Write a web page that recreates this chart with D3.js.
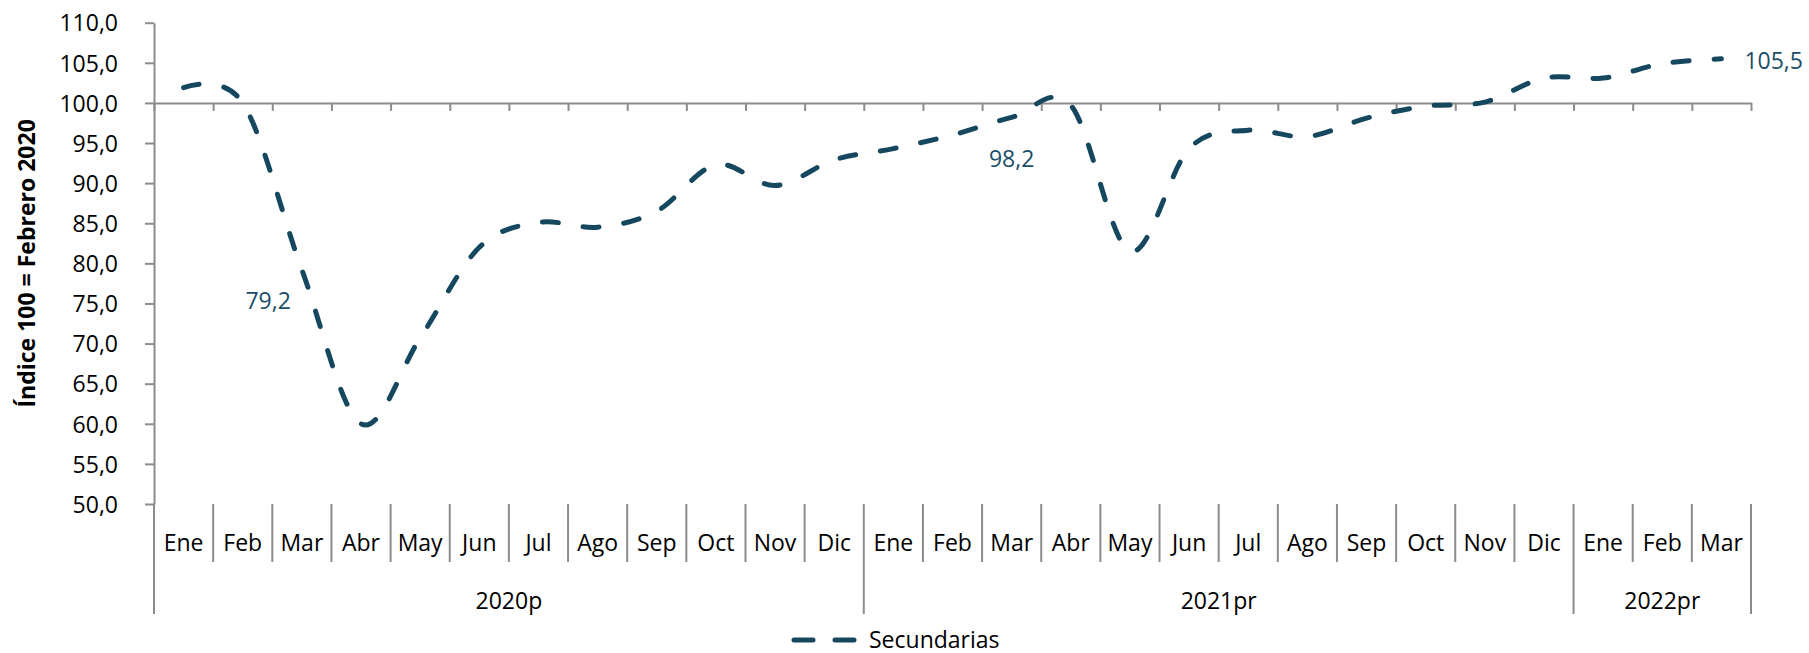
<!DOCTYPE html>
<html>
<head>
<meta charset="utf-8">
<script src="https://cdn.jsdelivr.net/npm/d3@7"></script>
<style>
  body { margin: 0; background: #fff; }
  text { font-family: "Open Sans", sans-serif; }
</style>
</head>
<body>
<div id="chart"></div>
<script>
// data
var months = ["Ene", "Feb", "Mar", "Abr", "May", "Jun", "Jul", "Ago", "Sep", "Oct", "Nov", "Dic",
              "Ene", "Feb", "Mar", "Abr", "May", "Jun", "Jul", "Ago", "Sep", "Oct", "Nov", "Dic",
              "Ene", "Feb", "Mar"];
var years = ["2020p", "2021pr", "2022pr"];
var monthsPerYear = [12, 12, 3];
var secundarias = [101.9, 100.0, 79.2, 60.0, 70.7, 82.0, 85.1, 84.5, 86.5, 92.3, 89.7, 92.9,
                   94.3, 96.0, 98.2, 99.7, 81.5, 94.3, 96.6, 95.8, 98.1, 99.6, 100.1, 103.1,
                   103.1, 104.9, 105.5];
var yTicks = [50, 55, 60, 65, 70, 75, 80, 85, 90, 95, 100, 105, 110];
// labelled points: index, dx, dy, anchor
var labelled = [
  { i: 2, dx: -11, dy: 31, anchor: "end" },
  { i: 14, dx: 0, dy: 41, anchor: "middle" },
  { i: 26, dx: 23, dy: 2, anchor: "start" }
];

var W = 1809, H = 653;
var plotLeft = 154, plotRight = 1751, plotTop = 22.7, plotBottom = 504;
var lineColor = "#15475f";
var axisColor = "#8c8c8c";
var fontSize = 23;

var svg = d3.select("#chart")
    .append("svg")
    .attr("width", W)
    .attr("height", H);

var locale = d3.formatLocale({ decimal: ",", thousands: ".", grouping: [3], currency: ["", ""] });
var fmt = locale.format(".1f");

// scales
var x = d3.scaleBand()
    .domain(d3.range(months.length))
    .range([plotLeft, plotRight])
    .padding(0);
var xEdge = d3.scaleLinear()
    .domain([0, months.length])
    .range([plotLeft, plotRight]);
var y = d3.scaleLinear()
    .domain([50, 110])
    .range([plotBottom, plotTop]);

// Y axis
var yAxis = svg.append("g")
    .attr("transform", "translate(" + plotLeft + ",0)")
    .call(d3.axisLeft(y).tickValues(yTicks).tickFormat(fmt).tickSize(9).tickSizeOuter(0).tickPadding(27));
yAxis.selectAll("path, line").attr("stroke", axisColor).attr("stroke-width", 2);
yAxis.selectAll("text")
    .attr("fill", "#000")
    .style("font-size", fontSize + "px")
    .attr("dy", "0.36em");

// horizontal axis crossing at 100
var xAxis = svg.append("g")
    .attr("transform", "translate(0," + y(100) + ")")
    .call(d3.axisBottom(xEdge).tickValues(d3.range(months.length + 1)).tickFormat("").tickSize(8).tickSizeOuter(0));
xAxis.selectAll("path, line").attr("stroke", axisColor).attr("stroke-width", 2);

// category separators at the bottom
var yearEdges = [0];
monthsPerYear.forEach(function(n, k) { yearEdges.push(yearEdges[k] + n); });

svg.append("g").selectAll("line")
    .data(d3.range(months.length + 1))
    .enter()
    .append("line")
    .attr("x1", function(d) { return xEdge(d); })
    .attr("x2", function(d) { return xEdge(d); })
    .attr("y1", plotBottom)
    .attr("y2", function(d) { return yearEdges.indexOf(d) >= 0 ? 614 : 562; })
    .attr("stroke", axisColor)
    .attr("stroke-width", 2);

svg.append("g").selectAll("text")
    .data(months)
    .enter()
    .append("text")
    .attr("x", function(d, i) { return x(i) + x.bandwidth() / 2; })
    .attr("y", 551)
    .attr("text-anchor", "middle")
    .style("font-size", fontSize + "px")
    .attr("fill", "#000")
    .text(function(d) { return d; });

svg.append("g").selectAll("text")
    .data(years)
    .enter()
    .append("text")
    .attr("x", function(d, k) { return (xEdge(yearEdges[k]) + xEdge(yearEdges[k + 1])) / 2; })
    .attr("y", 609)
    .attr("text-anchor", "middle")
    .style("font-size", fontSize + "px")
    .attr("fill", "#000")
    .text(function(d) { return d; });

// y axis title
svg.append("text")
    .attr("transform", "translate(35," + ((plotTop + plotBottom) / 2) + ") rotate(-90)")
    .attr("text-anchor", "middle")
    .style("font-size", fontSize + "px")
    .style("font-weight", "bold")
    .attr("fill", "#000")
    .text("Índice 100 = Febrero 2020");

// the line
var line = d3.line()
    .x(function(d, i) { return x(i) + x.bandwidth() / 2; })
    .y(function(d) { return y(d); })
    .curve(d3.curveCardinal.tension(0));

svg.append("path")
    .datum(secundarias)
    .attr("d", line)
    .attr("fill", "none")
    .attr("stroke", lineColor)
    .attr("stroke-width", 5)
    .attr("stroke-linecap", "round")
    .attr("stroke-dasharray", "16,25");

// data labels
svg.append("g").selectAll("text")
    .data(labelled)
    .enter()
    .append("text")
    .attr("x", function(d) { return x(d.i) + x.bandwidth() / 2 + d.dx; })
    .attr("y", function(d) { return y(secundarias[d.i]) + d.dy; })
    .attr("dy", "0.36em")
    .attr("text-anchor", function(d) { return d.anchor; })
    .style("font-size", fontSize + "px")
    .attr("fill", "#1b4d67")
    .text(function(d) { return fmt(secundarias[d.i]); });

// legend
var legend = svg.append("g").attr("transform", "translate(792,640)");
legend.append("line")
    .attr("x1", 2).attr("x2", 63)
    .attr("y1", 0).attr("y2", 0)
    .attr("stroke", lineColor)
    .attr("stroke-width", 5)
    .attr("stroke-linecap", "round")
    .attr("stroke-dasharray", "19,22");
legend.append("text")
    .attr("x", 77)
    .attr("y", 0)
    .attr("dy", "0.36em")
    .style("font-size", fontSize + "px")
    .attr("fill", "#000")
    .text("Secundarias");
</script>
</body>
</html>
